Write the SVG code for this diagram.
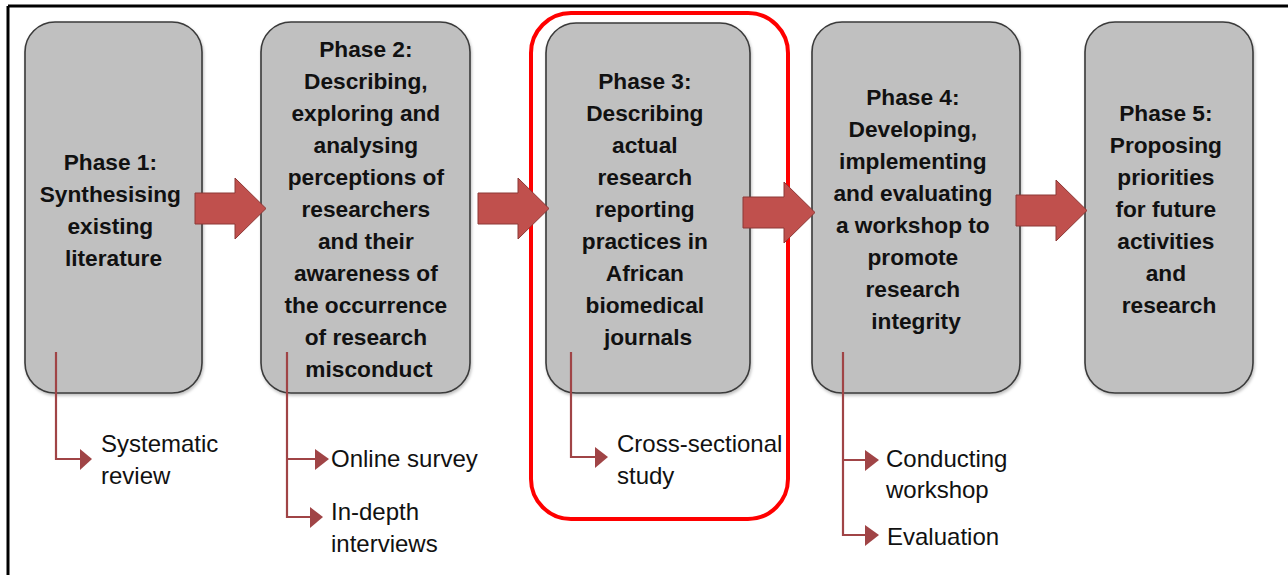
<svg xmlns="http://www.w3.org/2000/svg" width="1288" height="575" viewBox="0 0 1288 575">
  <style>
    .phase { fill: #c0c0c0; stroke: #3a3a3a; stroke-width: 1.6; }
    .title { font-family: "Liberation Sans", Arial, sans-serif; font-weight: bold; font-size: 22.7px; fill: #111; text-anchor: middle; }
    .sub { font-family: "Liberation Sans", Arial, sans-serif; font-size: 24px; fill: #111; }
    .flow { fill: #c0504d; stroke: #8c3836; stroke-width: 1; }
    .link { fill: none; stroke: #a04446; stroke-width: 2.2; }
    .tip { fill: #a04446; }
  </style>
  <defs>
    <filter id="shade" x="-10%" y="-10%" width="120%" height="120%">
      <feDropShadow dx="1" dy="2" stdDeviation="1.5" flood-color="#000" flood-opacity="0.25"/>
    </filter>
  </defs>

  <rect width="1288" height="575" fill="#fff"/>

  <!-- outer frame: top and left rules -->
  <path d="M8 6 H1288 M8 6 V575" fill="none" stroke="#000" stroke-width="3"/>

  <!-- highlight around phase 3 -->
  <rect id="highlight" x="531" y="13" width="257" height="506" rx="40" fill="none" stroke="#ff0000" stroke-width="4"/>

  <g id="phase1">
    <rect class="phase" x="25" y="22" width="177" height="371" rx="30" filter="url(#shade)"/>
    <text class="title" x="113.5">
      <tspan x="113.5" y="170">Phase 1:</tspan>
      <tspan x="113.5" y="202">Synthesising</tspan>
      <tspan x="113.5" y="234">existing</tspan>
      <tspan x="113.5" y="266">literature</tspan>
    </text>
  </g>

  <g id="phase2">
    <rect class="phase" x="261" y="22" width="209" height="371" rx="30" filter="url(#shade)"/>
    <text class="title">
      <tspan x="369" y="57">Phase 2:</tspan>
      <tspan x="369" y="89">Describing,</tspan>
      <tspan x="369" y="121">exploring and</tspan>
      <tspan x="369" y="153">analysing</tspan>
      <tspan x="369" y="185">perceptions of</tspan>
      <tspan x="369" y="217">researchers</tspan>
      <tspan x="369" y="249">and their</tspan>
      <tspan x="369" y="281">awareness of</tspan>
      <tspan x="369" y="313">the occurrence</tspan>
      <tspan x="369" y="345">of research</tspan>
      <tspan x="369" y="377">misconduct</tspan>
    </text>
  </g>

  <g id="phase3">
    <rect class="phase" x="546" y="23" width="204" height="370" rx="30" filter="url(#shade)"/>
    <text class="title">
      <tspan x="648" y="89">Phase 3:</tspan>
      <tspan x="648" y="121">Describing</tspan>
      <tspan x="648" y="153">actual</tspan>
      <tspan x="648" y="185">research</tspan>
      <tspan x="648" y="217">reporting</tspan>
      <tspan x="648" y="249">practices in</tspan>
      <tspan x="648" y="281">African</tspan>
      <tspan x="648" y="313">biomedical</tspan>
      <tspan x="648" y="345">journals</tspan>
    </text>
  </g>

  <g id="phase4">
    <rect class="phase" x="812" y="22" width="208" height="371" rx="30" filter="url(#shade)"/>
    <text class="title">
      <tspan x="916" y="105">Phase 4:</tspan>
      <tspan x="916" y="137">Developing,</tspan>
      <tspan x="916" y="169">implementing</tspan>
      <tspan x="916" y="201">and evaluating</tspan>
      <tspan x="916" y="233">a workshop to</tspan>
      <tspan x="916" y="265">promote</tspan>
      <tspan x="916" y="297">research</tspan>
      <tspan x="916" y="329">integrity</tspan>
    </text>
  </g>

  <g id="phase5">
    <rect class="phase" x="1085" y="22" width="168" height="371" rx="30" filter="url(#shade)"/>
    <text class="title">
      <tspan x="1169" y="121">Phase 5:</tspan>
      <tspan x="1169" y="153">Proposing</tspan>
      <tspan x="1169" y="185">priorities</tspan>
      <tspan x="1169" y="217">for future</tspan>
      <tspan x="1169" y="249">activities</tspan>
      <tspan x="1169" y="281">and</tspan>
      <tspan x="1169" y="313">research</tspan>
    </text>
  </g>

  <g id="connectors">
    <!-- block arrows between phases -->
    <path class="flow" d="M195 193 H235 V178 L266 208.5 L235 239 V224 H195 Z"/>
    <path class="flow" d="M478 193 H518 V178 L549 208.5 L518 239 V224 H478 Z"/>
    <path class="flow" d="M743 197 H784 V182 L815 212.5 L784 243 V228 H743 Z"/>
    <path class="flow" d="M1016 195 H1056 V180 L1087 210.5 L1056 241 V226 H1016 Z"/>

    <!-- method branches -->
    <path class="link" d="M56 352 V459 H81"/>
    <path class="tip" d="M80 449 L92 459 L80 470 Z"/>

    <path class="link" d="M287 352 V517 H311 M287 459 H316"/>
    <path class="tip" d="M315 449 L329 459 L315 470 Z"/>
    <path class="tip" d="M310 507 L323 517 L310 528 Z"/>

    <path class="link" d="M571 352 V457 H596"/>
    <path class="tip" d="M595 447 L608 457 L595 468 Z"/>

    <path class="link" d="M843 352 V535 H866 M843 460 H866"/>
    <path class="tip" d="M865 450 L879 460 L865 471 Z"/>
    <path class="tip" d="M865 525 L879 535 L865 546 Z"/>
  </g>

  <g id="methods">
    <text class="sub"><tspan x="101" y="452">Systematic</tspan><tspan x="101" y="484">review</tspan></text>
    <text class="sub"><tspan x="331" y="467">Online survey</tspan></text>
    <text class="sub"><tspan x="331" y="520">In-depth</tspan><tspan x="331" y="552">interviews</tspan></text>
    <text class="sub"><tspan x="617" y="452">Cross-sectional</tspan><tspan x="617" y="484">study</tspan></text>
    <text class="sub"><tspan x="886" y="467">Conducting</tspan><tspan x="886" y="498">workshop</tspan></text>
    <text class="sub"><tspan x="887" y="545">Evaluation</tspan></text>
  </g>
</svg>
